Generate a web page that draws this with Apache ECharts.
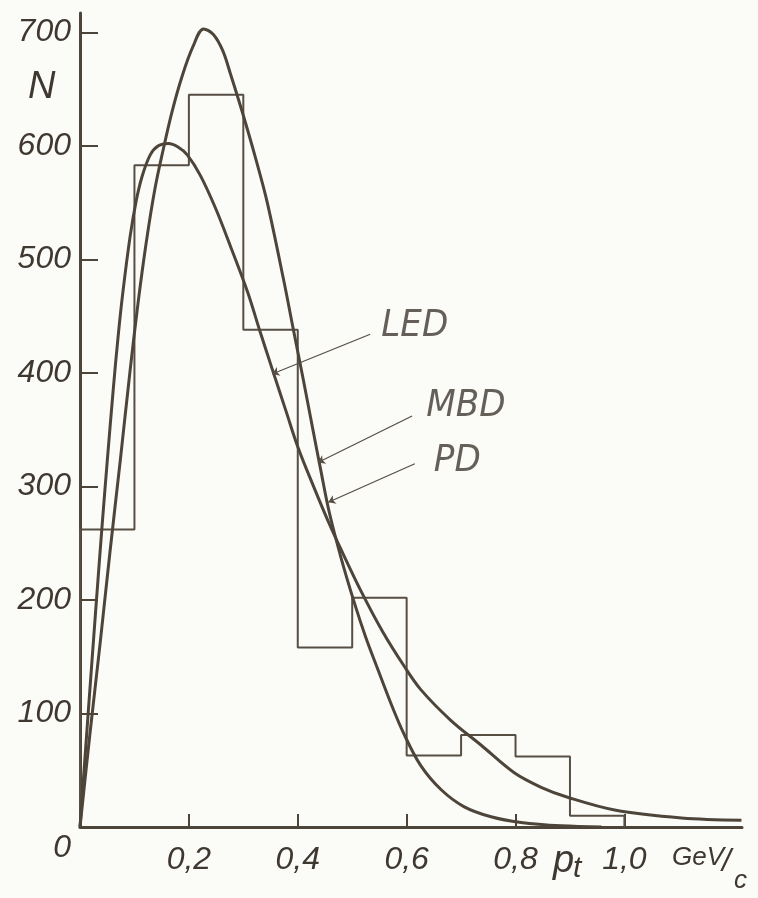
<!DOCTYPE html>
<html><head><meta charset="utf-8">
<script src="https://cdn.jsdelivr.net/npm/echarts@6/dist/echarts.min.js"></script>
<style>html,body{margin:0;padding:0;background:#fbfbf8;}#c{width:758px;height:898px;}</style>
</head><body><div id="c"></div>
<script>
// ---- data ----
const binEdges = [0, 0.1, 0.2, 0.3, 0.4, 0.5, 0.6, 0.7, 0.8, 0.9, 1.0];
const binCounts = [262, 583, 645, 438, 158, 202, 63, 81, 62, 10];

const ledCurve = [[0,0],[0.015,100],[0.029,192],[0.041,268],[0.050,322],[0.061,385],[0.070,432],[0.079,472],[0.092,520],[0.103,551],[0.114,573],[0.129,592],[0.144,600],[0.162,602],[0.180,599],[0.197,592],[0.221,574],[0.249,545],[0.276,512],[0.308,471],[0.331,436],[0.354,402],[0.378,367],[0.400,335],[0.429,300],[0.457,268],[0.479,245],[0.516,208],[0.556,172],[0.595,142],[0.626,121],[0.681,94],[0.737,72],[0.797,48],[0.847,35],[0.897,26],[0.982,15],[1.105,8],[1.215,6]];

const mbdCurve = [[0,0],[0.018,81],[0.037,162],[0.055,242],[0.074,323],[0.092,402],[0.107,463],[0.122,516],[0.138,563],[0.153,597],[0.169,630],[0.188,662],[0.208,688],[0.227,703],[0.245,698],[0.262,684],[0.276,664],[0.298,630],[0.322,590],[0.344,550],[0.374,482],[0.392,438],[0.411,392],[0.429,347],[0.442,315],[0.457,279],[0.479,238],[0.503,199],[0.525,167],[0.547,139],[0.571,109],[0.595,82],[0.626,54],[0.663,33],[0.705,18],[0.755,9],[0.810,4],[0.884,1],[0.958,0]];

const yTickValues = [100, 200, 300, 400, 500, 600, 700];
const xTickValues = [0.2, 0.4, 0.6, 0.8, 1.0];

const curveNames = ['LED', 'MBD', 'PD'];
const labelAt = [[0.615, 441], [0.709, 371], [0.693, 322]];
const arrowFrom = [[0.533, 434], [0.610, 362], [0.615, 320]];
const arrowTo = [[0.353, 399], [0.437, 321], [0.456, 286]];

// ---- build ----
const INK = '#4d443a';
const histData = [[binEdges[0], 0]];
binCounts.forEach((c, i) => histData.push([binEdges[i], c]));
histData.push([binEdges[binEdges.length - 1], binCounts[binCounts.length - 1]]);
histData.push([binEdges[binEdges.length - 1], 0]);

const digitFont = "'Liberation Sans', 'DejaVu Sans', sans-serif";
const narrowFont = "'Liberation Sans Narrow', 'DejaVu Sans Condensed', 'Liberation Sans', sans-serif";

const chart = echarts.init(document.getElementById('c'), null, {renderer: 'canvas'});
chart.setOption({
  animation: false,
  backgroundColor: '#fbfbf8',
  grid: {left: 80, right: 16, top: 13, bottom: 71, containLabel: false},
  xAxis: {
    type: 'value', min: 0, max: 1.216,
    splitLine: {show: false},
    axisLine: {lineStyle: {color: INK, width: 3}},
    axisTick: {inside: true, length: 13, customValues: xTickValues, lineStyle: {color: INK, width: 2}},
    axisLabel: {
      customValues: xTickValues, margin: 17,
      formatter: v => v.toFixed(1).replace('.', ','),
      fontSize: 32, fontStyle: 'italic', fontFamily: digitFont, color: '#3f3830'
    }
  },
  yAxis: {
    type: 'value', min: 0, max: 717,
    splitLine: {show: false},
    axisLine: {lineStyle: {color: INK, width: 3}},
    axisTick: {inside: true, length: 18, customValues: yTickValues, lineStyle: {color: INK, width: 2}},
    axisLabel: {
      customValues: [0].concat(yTickValues), margin: 9,
      formatter: v => v === 0 ? '{z|0}' : String(v),
      fontSize: 32, fontStyle: 'italic', fontFamily: digitFont, color: '#3f3830',
      rich: {z: {fontSize: 32, fontStyle: 'italic', fontFamily: digitFont, color: '#3f3830', padding: [42, 0, 0, 0]}}
    }
  },
  graphic: [
    {type: 'text', left: 28, top: 68, style: {text: 'N', fontSize: 38, fontStyle: 'italic', fontFamily: digitFont, fill: '#3f3830'}},
    {type: 'text', x: 553, y: 842, style: {text: 'p', fontSize: 38, fontStyle: 'italic', fontFamily: digitFont, fill: '#3f3830'}},
    {type: 'text', x: 573, y: 854, style: {text: 't', fontSize: 30, fontStyle: 'italic', fontFamily: digitFont, fill: '#3f3830'}},
    {type: 'text', x: 672, y: 845, style: {text: 'GeV', fontSize: 26, fontStyle: 'italic', fontFamily: digitFont, fill: '#3f3830'}},
    {type: 'text', x: 722, y: 846, style: {text: '/', fontSize: 32, fontStyle: 'italic', fontFamily: digitFont, fill: '#3f3830'}},
    {type: 'text', x: 734, y: 868, style: {text: 'c', fontSize: 26, fontStyle: 'italic', fontFamily: digitFont, fill: '#3f3830'}}
  ],
  series: [
    {
      name: 'histogram', type: 'line', step: 'end', data: histData,
      showSymbol: false, silent: true,
      lineStyle: {color: '#574e44', width: 2}
    },
    {
      name: 'LED', type: 'line', data: ledCurve, smooth: 0.35,
      showSymbol: false, silent: true,
      lineStyle: {color: INK, width: 3}
    },
    {
      name: 'MBD', type: 'line', data: mbdCurve, smooth: 0.35,
      showSymbol: false, silent: true,
      lineStyle: {color: INK, width: 3},
      markLine: {
        silent: true, symbol: ['none', 'arrow'], symbolSize: 7,
        lineStyle: {color: '#574e44', width: 1.2, type: 'solid'},
        label: {show: false},
        data: curveNames.map((n, i) => [{coord: arrowFrom[i]}, {coord: arrowTo[i]}])
      }
    },
    {
      name: 'labels', type: 'scatter', symbolSize: 0, silent: true,
      data: curveNames.map((n, i) => ({name: n, value: labelAt[i]})),
      label: {
        show: true, position: 'inside', formatter: '{b}',
        fontSize: 38, fontStyle: 'italic', fontFamily: narrowFont, color: '#3f3830'
      }
    }
  ]
});
</script>
</body></html>
